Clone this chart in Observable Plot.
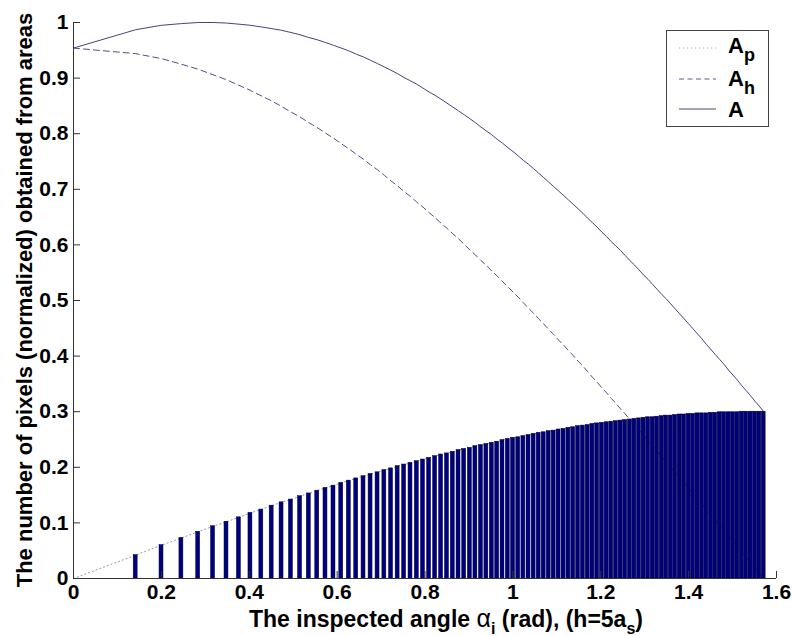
<!DOCTYPE html>
<html>
<head>
<meta charset="utf-8">
<script src="https://cdn.jsdelivr.net/npm/d3@7"></script>
<script src="https://cdn.jsdelivr.net/npm/@observablehq/plot@0.6"></script>
<style>
  html, body { margin: 0; padding: 0; background: #fff; }
  #chart { position: relative; width: 792px; height: 636px; }
</style>
</head>
<body>
<div id="chart"></div>
<script>
// Inspected angle alpha_i (rad) of each sample / bar
const angles = [
  0, 0.1415, 0.2003, 0.2456, 0.2838, 0.3176, 0.3482, 0.3764, 0.4027, 0.4275,
  0.4510, 0.4735, 0.4949, 0.5156, 0.5355, 0.5548, 0.5735, 0.5917, 0.6094, 0.6266,
  0.6435, 0.6601, 0.6761, 0.6920, 0.7075, 0.7227, 0.7377, 0.7525, 0.7670, 0.7813,
  0.7954, 0.8093, 0.8230, 0.8366, 0.8500, 0.8632, 0.8763, 0.8892, 0.9021, 0.9147,
  0.9273, 0.9397, 0.9521, 0.9643, 0.9764, 0.9884, 1.0004, 1.0122, 1.0239, 1.0356,
  1.0472, 1.0587, 1.0701, 1.0815, 1.0928, 1.1040, 1.1152, 1.1263, 1.1373, 1.1483,
  1.1593, 1.1702, 1.1810, 1.1918, 1.2025, 1.2132, 1.2239, 1.2345, 1.2451, 1.2556,
  1.2661, 1.2766, 1.2870, 1.2974, 1.3078, 1.3181, 1.3284, 1.3387, 1.3490, 1.3592,
  1.3694, 1.3796, 1.3898, 1.4000, 1.4101, 1.4202, 1.4303, 1.4404, 1.4505, 1.4606,
  1.4706, 1.4807, 1.4907, 1.5007, 1.5108, 1.5208, 1.5308, 1.5408, 1.5508, 1.5608,
  1.5708
];
// A_p (dotted line and bars)
const Ap = [
  0, 0.042, 0.060, 0.073, 0.084, 0.094, 0.102, 0.110, 0.118, 0.124,
  0.131, 0.137, 0.142, 0.148, 0.153, 0.158, 0.163, 0.167, 0.172, 0.176,
  0.180, 0.184, 0.188, 0.191, 0.195, 0.198, 0.202, 0.205, 0.208, 0.211,
  0.214, 0.217, 0.220, 0.223, 0.225, 0.228, 0.231, 0.233, 0.235, 0.238,
  0.240, 0.242, 0.244, 0.246, 0.249, 0.251, 0.253, 0.254, 0.256, 0.258,
  0.260, 0.262, 0.263, 0.265, 0.266, 0.268, 0.269, 0.271, 0.272, 0.274,
  0.275, 0.276, 0.278, 0.279, 0.280, 0.281, 0.282, 0.283, 0.284, 0.285,
  0.286, 0.287, 0.288, 0.289, 0.290, 0.290, 0.291, 0.292, 0.293, 0.293,
  0.294, 0.295, 0.295, 0.296, 0.296, 0.297, 0.297, 0.297, 0.298, 0.298,
  0.299, 0.299, 0.299, 0.299, 0.299, 0.300, 0.300, 0.300, 0.300, 0.300,
  0.300
];
// A_h (dashed line)
const Ah = [
  0.954, 0.944, 0.935, 0.925, 0.916, 0.906, 0.897, 0.887, 0.878, 0.868,
  0.859, 0.849, 0.839, 0.830, 0.820, 0.811, 0.801, 0.792, 0.782, 0.773,
  0.763, 0.754, 0.744, 0.735, 0.725, 0.715, 0.706, 0.696, 0.687, 0.677,
  0.668, 0.658, 0.649, 0.639, 0.630, 0.620, 0.611, 0.601, 0.591, 0.582,
  0.572, 0.563, 0.553, 0.544, 0.534, 0.525, 0.515, 0.506, 0.496, 0.486,
  0.477, 0.467, 0.458, 0.448, 0.439, 0.429, 0.420, 0.410, 0.401, 0.391,
  0.382, 0.372, 0.362, 0.353, 0.343, 0.334, 0.324, 0.315, 0.305, 0.296,
  0.286, 0.277, 0.267, 0.258, 0.248, 0.238, 0.229, 0.219, 0.210, 0.200,
  0.191, 0.181, 0.172, 0.162, 0.153, 0.143, 0.134, 0.124, 0.114, 0.105,
  0.095, 0.086, 0.076, 0.067, 0.057, 0.048, 0.038, 0.029, 0.019, 0.010,
  0
];
// A (solid line)
const A = [
  0.954, 0.987, 0.995, 0.998, 1.000, 1.000, 0.999, 0.997, 0.995, 0.992,
  0.989, 0.986, 0.982, 0.978, 0.973, 0.969, 0.964, 0.959, 0.954, 0.949,
  0.943, 0.938, 0.932, 0.926, 0.920, 0.914, 0.908, 0.901, 0.895, 0.889,
  0.882, 0.875, 0.869, 0.862, 0.855, 0.848, 0.841, 0.834, 0.827, 0.820,
  0.812, 0.805, 0.798, 0.790, 0.783, 0.775, 0.768, 0.760, 0.752, 0.745,
  0.737, 0.729, 0.721, 0.713, 0.705, 0.697, 0.689, 0.681, 0.673, 0.665,
  0.657, 0.648, 0.640, 0.632, 0.623, 0.615, 0.606, 0.598, 0.590, 0.581,
  0.572, 0.564, 0.555, 0.546, 0.538, 0.529, 0.520, 0.511, 0.503, 0.494,
  0.485, 0.476, 0.467, 0.458, 0.449, 0.440, 0.431, 0.421, 0.412, 0.403,
  0.394, 0.385, 0.375, 0.366, 0.357, 0.347, 0.338, 0.329, 0.319, 0.310,
  0.300
];
const xTicks = [0, 0.2, 0.4, 0.6, 0.8, 1, 1.2, 1.4, 1.6];
const xTickLabels = ["0", "0.2", "0.4", "0.6", "0.8", "1", "1.2", "1.4", "1.6"];
const yTicks = [0, 0.1, 0.2, 0.3, 0.4, 0.5, 0.6, 0.7, 0.8, 0.9, 1];
const yTickLabels = ["0", "0.1", "0.2", "0.3", "0.4", "0.5", "0.6", "0.7", "0.8", "0.9", "1"];

const n = Math.min(angles.length, Ap.length, Ah.length, A.length);
const rows = d3.range(n).map(i => ({angle: angles[i], Ap: Ap[i], Ah: Ah[i], A: A[i]}));
const bars = rows.filter(d => d.Ap > 0);

const W = 792, H = 636, mL = 73, mR = 16, mT = 22, mB = 58;
const frameW = W - mL - mR, frameH = H - mT - mB;
const tickLen = 7;
const barHalf = 0.0045;
const font = "'Liberation Sans', Arial, Helvetica, sans-serif";

const chart = Plot.plot({
  width: W, height: H,
  marginLeft: mL, marginRight: mR, marginTop: mT, marginBottom: mB,
  x: {domain: [0, 1.6]},
  y: {domain: [0, 1]},
  style: {fontFamily: font, fontWeight: "bold", fontSize: "21px", background: "#fff", color: "#000", overflow: "visible"},
  marks: [
    Plot.line(rows, {x: "angle", y: "Ap", stroke: "#9494b4", strokeWidth: 1, strokeDasharray: "1.2,2.8"}),
    Plot.line(rows, {x: "angle", y: "Ah", stroke: "#50508a", strokeWidth: 1, strokeDasharray: "6,4"}),
    Plot.line(rows, {x: "angle", y: "A", stroke: "#44447e", strokeWidth: 1}),
    Plot.rect(bars, {x1: d => d.angle - barHalf, x2: d => d.angle + barHalf, y1: 0, y2: "Ap",
      fill: "#00007e", stroke: "#000030", strokeWidth: 0.5}),
    Plot.ruleY([0], {stroke: "#333", strokeWidth: 1}),
    Plot.ruleX([0], {stroke: "#333", strokeWidth: 1}),
    Plot.tickX(xTicks, {x: d => d, insetTop: frameH - tickLen, stroke: "#333"}),
    Plot.tickY(yTicks, {y: d => d, insetRight: frameW - tickLen, stroke: "#333"}),
    Plot.axisX({ticks: xTicks, tickSize: 0, tickPadding: 6, label: null, fontSize: 21,
      tickFormat: d => xTickLabels[xTicks.indexOf(d)]}),
    Plot.axisY({ticks: yTicks, tickSize: 0, tickPadding: 5, label: null, fontSize: 21,
      tickFormat: d => yTickLabels[yTicks.indexOf(d)]})
  ]
});
document.getElementById("chart").appendChild(chart);

const svg = d3.select(chart);
// y-axis title
svg.append("text")
  .attr("transform", `translate(32, 300) rotate(-90)`)
  .attr("text-anchor", "middle")
  .attr("font-family", font).attr("font-weight", "bold").attr("font-size", 22)
  .attr("fill", "#000")
  .text("The number of pixels (normalized) obtained from areas");

// x-axis title with subscripts
const xl = svg.append("text")
  .attr("x", 446).attr("y", 627)
  .attr("text-anchor", "middle")
  .attr("font-family", font).attr("font-weight", "bold").attr("font-size", 23)
  .attr("fill", "#000");
xl.append("tspan").text("The inspected angle ");
xl.append("tspan").attr("font-weight", "normal").attr("font-size", 25).text("α");
xl.append("tspan").attr("dy", 7).attr("font-size", 16).text("i");
xl.append("tspan").attr("dy", -7).text(" (rad), (h=5a");
xl.append("tspan").attr("dy", 7).attr("font-size", 16).text("s");
xl.append("tspan").attr("dy", -7).text(")");

// legend
const lg = svg.append("g").attr("font-family", font).attr("font-weight", "bold").attr("font-size", 22)
  .attr("text-anchor", "start");
lg.append("rect").attr("x", 666.5).attr("y", 30.5).attr("width", 102).attr("height", 96)
  .attr("fill", "#fff").attr("stroke", "#444").attr("stroke-width", 1);
const entries = [
  {label: "A", sub: "p", stroke: "#a4a4c0", dash: "1.2,2.8", ly: 48, ty: 53},
  {label: "A", sub: "h", stroke: "#5a5a90", dash: "5,3.5", ly: 79, ty: 86},
  {label: "A", sub: "", stroke: "#4a4a82", dash: null, ly: 109, ty: 117}
];
for (const e of entries) {
  lg.append("line").attr("x1", 679).attr("x2", 716).attr("y1", e.ly).attr("y2", e.ly)
    .attr("stroke", e.stroke).attr("stroke-width", 1).attr("stroke-dasharray", e.dash);
  const t = lg.append("text").attr("x", 728).attr("y", e.ty).attr("fill", "#000");
  t.append("tspan").text(e.label);
  if (e.sub) t.append("tspan").attr("dy", 8).attr("font-size", 18).text(e.sub);
}
</script>
</body>
</html>
